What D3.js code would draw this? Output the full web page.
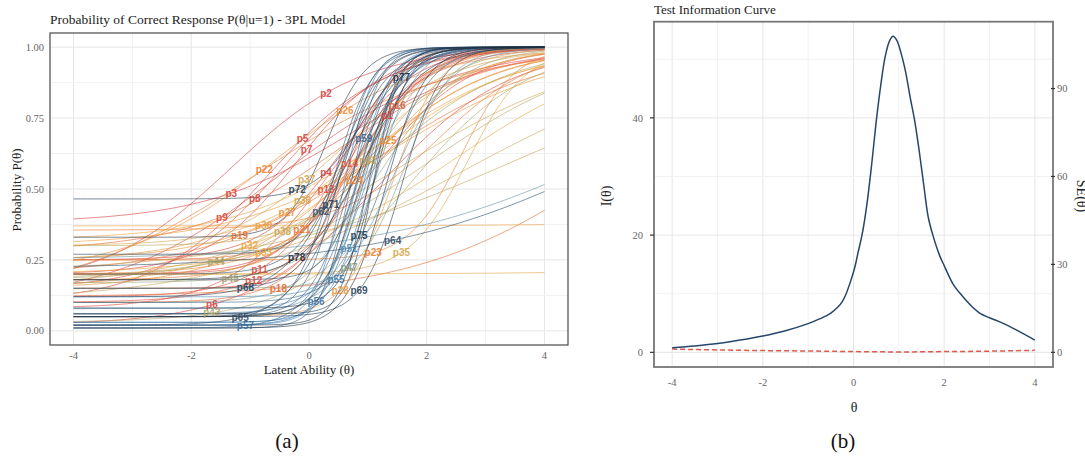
<!DOCTYPE html>
<html>
<head>
<meta charset="utf-8">
<script src="https://cdn.jsdelivr.net/npm/d3@7"></script>
<style>
body { margin: 0; background: #fff; }
svg { display: block; }
</style>
</head>
<body>
<svg id="chart" width="1085" height="460"></svg>
<script>
// panel (a): 3PL item parameters (a = slope, b = location, c = lower asymptote)
const itemNames = d3.range(1, 79).map(i => 'p' + i);
const discr = [1.6, 0.9, 0.8, 1.5, 1.0, 0.9, 1.3, 1.1, 0.7, 1.2,
	1.5, 1.2, 2.0, 2.5, 1.8, 1.8, 0.8, 0.6, 0.7, 1.2,
	1.5, 0.6, 2.2, 1.2, 0.9, 0.8, 0.9, 2.5, 0.7, 0.5,
	0.8, 0.8, 0.7, 0.5, 2.0, 1.1, 1.0, 0.6, 0.5, 0.45,
	1.5, 0.7, 1.0, 0.9, 1.5, 2.0, 2.5, 3.0, 0.5, 2.0,
	3.0, 3.5, 2.8, 4.0, 3.0, 3.0, 2.5, 2.5, 3.0, 3.5,
	4.0, 2.5, 3.0, 0.5, 2.0, 3.5, 3.0, 2.0, 3.0, 4.5,
	3.0, 2.5, 3.0, 4.0, 3.5, 3.0, 3.0, 2.0];
const diff = [0.80, -1.32, 0.66, 0.53, -0.69, 1.17, -0.19, -0.45, -0.49, 0.30,
	0.56, 1.03, 0.55, 0.66, 0.90, 0.82, 0.50, 5.06, 1.09, 2.20,
	0.74, -0.91, 2.60, 1.07, 0.83, -0.59, 1.01, 1.42, 1.50, 14,
	1.20, 0.89, 2.43, 14, 2.70, 1.00, 0.46, 1.53, 2.50, 3.50,
	1.19, 2.00, 1.70, 1.16, 1.29, 1.00, 1.62, 0.90, 5.20, 1.40,
	1.16, 0.80, 1.00, 0.60, 1.02, 0.91, 0.80, 1.30, 0.71, 0.50,
	0.70, 0.59, 0.40, 5.26, 0.63, 0.90, 0.60, 0.57, 1.59, 1.10,
	0.58, 0.90, 0.30, 1.00, 1.12, 1.30, 0.88, 0.91];
const guess = [0.20, 0.15, 0.38, 0.25, 0.10, 0.02, 0.20, 0.15, 0.10, 0.08,
	0.12, 0.10, 0.20, 0.15, 0.25, 0.10, 0.28, 0.12, 0.20, 0.355,
	0.18, 0.10, 0.25, 0.20, 0.15, 0.20, 0.25, 0.05, 0.30, 0.37,
	0.32, 0.15, 0.20, 0.20, 0.20, 0.30, 0.25, 0.15, 0.10, 0.20,
	0.30, 0.18, 0.03, 0.18, 0.17, 0.10, 0.15, 0.05, 0.25, 0.06,
	0.12, 0.02, 0.08, 0.03, 0.03, 0.02, 0.01, 0.10, 0.05, 0.06,
	0.01, 0.20, 0.05, 0.22, 0.02, 0.18, 0.27, 0.12, 0.05, 0.06,
	0.15, 0.465, 0.33, 0.02, 0.08, 0.01, 0.05, 0.18];

// items that carry a label, and the ability where the label sits
const labelItems = ['p1', 'p2', 'p3', 'p4', 'p5', 'p6', 'p7', 'p8', 'p9', 'p11',
	'p12', 'p13', 'p14', 'p16', 'p18', 'p19', 'p21', 'p22', 'p23', 'p24',
	'p25', 'p26', 'p27', 'p28', 'p30', 'p32', 'p33', 'p35', 'p36', 'p37',
	'p38', 'p41', 'p43', 'p44', 'p45', 'p47', 'p51', 'p55', 'p56', 'p57',
	'p59', 'p62', 'p64', 'p65', 'p68', 'p69', 'p71', 'p72', 'p75', 'p77', 'p78'];
const labelTheta = [1.33, 0.29, -1.32, 0.29, -0.11, -1.65, -0.04, -0.92, -1.48, -0.84,
	-0.94, 0.29, 0.69, 1.50, -0.52, -1.18, -0.12, -0.76, 1.09, 0.77,
	1.34, 0.61, -0.37, 0.53, -0.77, -1.01, -0.77, 1.57, -0.11, -0.04,
	-0.45, 1.00, -1.65, -1.58, -1.34, 0.68, 0.68, 0.46, 0.12, -1.08,
	0.93, 0.20, 1.42, -1.17, -1.08, 0.85, 0.37, -0.20, 0.85, 1.57, -0.21];

const xTicksA = [-4, -2, 0, 2, 4];
const yTicksA = [0, 0.25, 0.5, 0.75, 1];

// panel (b): test information and its standard error
const infoTheta = [-4, -3.5, -3, -2.5, -2, -1.5, -1, -0.75, -0.5, -0.25,
	0, 0.1, 0.2, 0.3, 0.4, 0.5, 0.6, 0.7, 0.8, 0.87,
	0.95, 1.05, 1.15, 1.25, 1.35, 1.45, 1.55, 1.65, 1.75, 1.9,
	2.0, 2.2, 2.4, 2.6, 2.8, 3.0, 3.3, 3.6, 4.0];
const infoValues = [0.8, 1.1, 1.5, 2.1, 2.8, 3.7, 4.9, 5.7, 6.7, 8.6,
	13.7, 17.0, 20.5, 25.5, 32.0, 39.3, 45.5, 50.5, 53.2, 53.9,
	53.3, 51.0, 47.8, 43.5, 39.5, 34.3, 28.5, 23.0, 20.0, 16.5,
	14.8, 11.6, 9.6, 7.9, 6.6, 5.9, 4.95, 3.8, 2.1];
const seTheta = [-4, -3, -2, -1, 0, 1, 2, 3, 4];
const seValues = [1.12, 0.82, 0.6, 0.45, 0.27, 0.14, 0.26, 0.41, 0.69];

const xTicksB = [-4, -2, 0, 2, 4];
const yTicksB = [0, 20, 40];
const seTicks = [0, 30, 60, 90];

const svg = d3.select('#chart');
const serif = '"Liberation Serif", "DejaVu Serif", serif';

// ---------- panel (a) ----------
const xA = d3.scaleLinear().domain([-4.4, 4.4]).range([50, 568]),
	yA = d3.scaleLinear().domain([-0.05, 1.05]).range([345, 33]);

const color = d3.scaleLinear()
	.domain([1, 12, 20, 32, 44, 52, 62, 78])
	.range(['#d53a3a', '#dd4a38', '#e8742c', '#eea53a', '#a9a466', '#3f86bf', '#2f5070', '#1f2b3a'])
	.interpolate(d3.interpolateRgb);

const gA = svg.append('g');

gA.selectAll('line.vgrid')
	.data(d3.range(-4, 5))
	.join('line')
	.attr('x1', d => xA(d)).attr('x2', d => xA(d))
	.attr('y1', yA.range()[1]).attr('y2', yA.range()[0])
	.attr('stroke', d => d % 2 === 0 ? '#e6e6e6' : '#f1f1f1')
	.attr('stroke-width', 1);

gA.selectAll('line.hgrid')
	.data(d3.range(0, 1.01, 0.125))
	.join('line')
	.attr('x1', xA.range()[0]).attr('x2', xA.range()[1])
	.attr('y1', d => yA(d)).attr('y2', d => yA(d))
	.attr('stroke', (d, i) => i % 2 === 0 ? '#e6e6e6' : '#f1f1f1')
	.attr('stroke-width', 1);

const thetaGrid = d3.range(-4, 4.0001, 0.04);
const icc = (i, t) => guess[i] + (1 - guess[i]) / (1 + Math.exp(-discr[i] * (t - diff[i])));

const lineA = d3.line().x(d => xA(d[0])).y(d => yA(d[1]));

gA.append('g').selectAll('path')
	.data(itemNames.map((name, i) => ({ name, i })))
	.join('path')
	.attr('d', d => lineA(thetaGrid.map(t => [t, icc(d.i, t)])))
	.attr('fill', 'none')
	.attr('stroke', d => color(d.i + 1))
	.attr('stroke-opacity', 0.68)
	.attr('stroke-width', 0.9);

gA.append('g').selectAll('text')
	.data(labelItems.map((name, k) => ({ name, i: itemNames.indexOf(name), t: labelTheta[k] })))
	.join('text')
	.attr('x', d => xA(d.t))
	.attr('y', d => yA(icc(d.i, d.t)))
	.attr('dy', '0.35em')
	.attr('text-anchor', 'middle')
	.attr('font-family', '"Liberation Sans", Arial, sans-serif')
	.attr('font-weight', 'bold')
	.attr('font-size', 10)
	.attr('fill', d => color(d.i + 1))
	.attr('fill-opacity', 0.9)
	.text(d => d.name);

gA.append('rect')
	.attr('x', xA.range()[0]).attr('y', yA.range()[1])
	.attr('width', xA.range()[1] - xA.range()[0])
	.attr('height', yA.range()[0] - yA.range()[1])
	.attr('fill', 'none')
	.attr('stroke', '#4a4a4a')
	.attr('stroke-width', 1.2);

gA.selectAll('text.ytick')
	.data(yTicksA)
	.join('text')
	.attr('x', 44).attr('y', d => yA(d))
	.attr('dy', '0.35em')
	.attr('text-anchor', 'end')
	.attr('font-family', serif).attr('font-size', 10.5)
	.attr('fill', '#666')
	.text(d => d3.format('.2f')(d));

gA.selectAll('text.xtick')
	.data(xTicksA)
	.join('text')
	.attr('x', d => xA(d)).attr('y', 359)
	.attr('text-anchor', 'middle')
	.attr('font-family', serif).attr('font-size', 10.5)
	.attr('fill', '#666')
	.text(d => d);

gA.append('text')
	.attr('x', 50).attr('y', 24)
	.attr('font-family', serif).attr('font-size', 13.5)
	.attr('fill', '#222')
	.text('Probability of Correct Response P(θ|u=1) - 3PL Model');

gA.append('text')
	.attr('x', 309).attr('y', 374)
	.attr('text-anchor', 'middle')
	.attr('font-family', serif).attr('font-size', 13)
	.attr('fill', '#222')
	.text('Latent Ability (θ)');

gA.append('text')
	.attr('transform', 'translate(21,190) rotate(-90)')
	.attr('text-anchor', 'middle')
	.attr('font-family', serif).attr('font-size', 13)
	.attr('fill', '#222')
	.text('Probability P(θ)');

// ---------- panel (b) ----------
const xB = d3.scaleLinear().domain([-4.4, 4.4]).range([654, 1053]),
	yB = d3.scaleLinear().domain([-2.5, 56.4]).range([367, 21.7]),
	ySE = d3.scaleLinear().domain([-5, 112.8]).range([367, 21.7]);

const gB = svg.append('g');

gB.selectAll('line.vgrid')
	.data(d3.range(-4, 5))
	.join('line')
	.attr('x1', d => xB(d)).attr('x2', d => xB(d))
	.attr('y1', yB.range()[1]).attr('y2', yB.range()[0])
	.attr('stroke', d => d % 2 === 0 ? '#e6e6e6' : '#f1f1f1')
	.attr('stroke-width', 1);

gB.selectAll('line.hgrid')
	.data(d3.range(0, 51, 10))
	.join('line')
	.attr('x1', xB.range()[0]).attr('x2', xB.range()[1])
	.attr('y1', d => yB(d)).attr('y2', d => yB(d))
	.attr('stroke', d => d % 20 === 0 ? '#e6e6e6' : '#f1f1f1')
	.attr('stroke-width', 1);

gB.append('path')
	.datum(seTheta.map((t, i) => [t, seValues[i]]))
	.attr('d', d3.line().x(d => xB(d[0])).y(d => ySE(d[1])).curve(d3.curveMonotoneX))
	.attr('fill', 'none')
	.attr('stroke', '#e0574c')
	.attr('stroke-width', 1.5)
	.attr('stroke-dasharray', '5,3');

gB.append('path')
	.datum(infoTheta.map((t, i) => [t, infoValues[i]]))
	.attr('d', d3.line().x(d => xB(d[0])).y(d => yB(d[1])).curve(d3.curveCatmullRom))
	.attr('fill', 'none')
	.attr('stroke', '#24466b')
	.attr('stroke-width', 1.5);

gB.append('rect')
	.attr('x', xB.range()[0]).attr('y', yB.range()[1])
	.attr('width', xB.range()[1] - xB.range()[0])
	.attr('height', yB.range()[0] - yB.range()[1])
	.attr('fill', 'none')
	.attr('stroke', '#777')
	.attr('stroke-width', 1.8);

gB.selectAll('line.ytickmark')
	.data(yTicksB)
	.join('line')
	.attr('x1', 650).attr('x2', 654)
	.attr('y1', d => yB(d)).attr('y2', d => yB(d))
	.attr('stroke', '#333').attr('stroke-width', 1.2);

gB.selectAll('text.ytick')
	.data(yTicksB)
	.join('text')
	.attr('x', 643).attr('y', d => yB(d))
	.attr('dy', '0.35em')
	.attr('text-anchor', 'end')
	.attr('font-family', serif).attr('font-size', 10.5)
	.attr('fill', '#666')
	.text(d => d);

gB.selectAll('line.setickmark')
	.data(seTicks)
	.join('line')
	.attr('x1', 1051).attr('x2', 1055)
	.attr('y1', d => ySE(d)).attr('y2', d => ySE(d))
	.attr('stroke', '#333').attr('stroke-width', 1.2);

gB.selectAll('text.setick')
	.data(seTicks)
	.join('text')
	.attr('x', 1057).attr('y', d => ySE(d))
	.attr('dy', '0.35em')
	.attr('font-family', serif).attr('font-size', 10.5)
	.attr('fill', '#666')
	.text(d => d);

gB.selectAll('text.xtick')
	.data(xTicksB)
	.join('text')
	.attr('x', d => xB(d)).attr('y', 386)
	.attr('text-anchor', 'middle')
	.attr('font-family', serif).attr('font-size', 10.5)
	.attr('fill', '#666')
	.text(d => d);

gB.append('text')
	.attr('x', 654).attr('y', 14)
	.attr('font-family', serif).attr('font-size', 13)
	.attr('fill', '#222')
	.text('Test Information Curve');

gB.append('text')
	.attr('x', 854).attr('y', 412)
	.attr('text-anchor', 'middle')
	.attr('font-family', serif).attr('font-size', 14)
	.attr('fill', '#222')
	.text('θ');

gB.append('text')
	.attr('transform', 'translate(611,196) rotate(-90)')
	.attr('text-anchor', 'middle')
	.attr('font-family', serif).attr('font-size', 14)
	.attr('fill', '#222')
	.text('I(θ)');

gB.append('text')
	.attr('transform', 'translate(1077,196) rotate(90)')
	.attr('text-anchor', 'middle')
	.attr('font-family', serif).attr('font-size', 14)
	.attr('fill', '#222')
	.text('SE(θ)');

// ---------- captions ----------
svg.append('text')
	.attr('x', 287).attr('y', 448)
	.attr('text-anchor', 'middle')
	.attr('font-family', serif).attr('font-size', 21)
	.attr('fill', '#111')
	.text('(a)');

svg.append('text')
	.attr('x', 843).attr('y', 448)
	.attr('text-anchor', 'middle')
	.attr('font-family', serif).attr('font-size', 21)
	.attr('fill', '#111')
	.text('(b)');
</script>
</body>
</html>
